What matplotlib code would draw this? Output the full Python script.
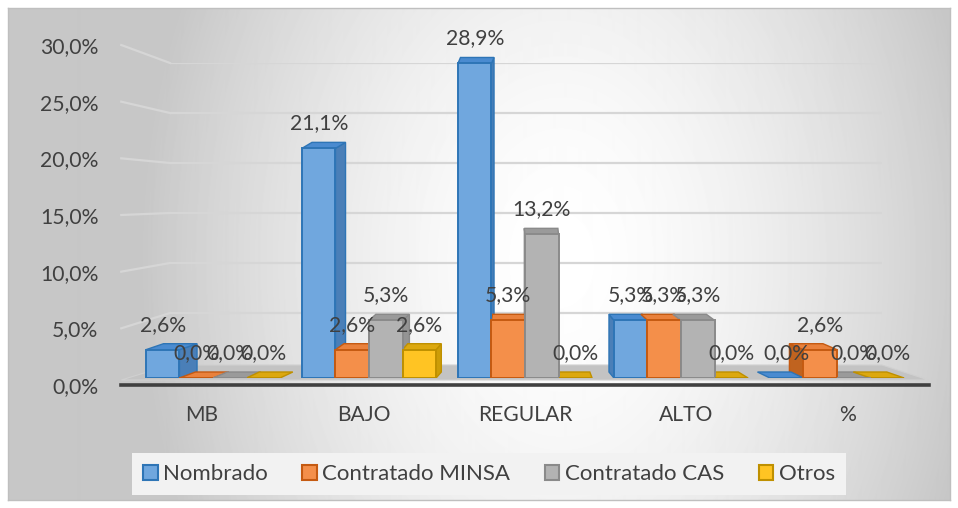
import numpy as np
import matplotlib
matplotlib.use("Agg")
import matplotlib.pyplot as plt
from matplotlib.patches import Polygon, Patch
from matplotlib.lines import Line2D
from matplotlib.transforms import IdentityTransform

plt.rcParams['font.family'] = ['Lato', 'DejaVu Sans']

# ---------------- data ----------------
categories = ['MB', 'BAJO', 'REGULAR', 'ALTO', '%']
series_names = ['Nombrado', 'Contratado MINSA', 'Contratado CAS', 'Otros']
nombrado = [2.6, 21.1, 28.9, 5.3, 0.0]
contratado_minsa = [0.0, 2.6, 5.3, 5.3, 2.6]
contratado_cas = [0.0, 5.3, 13.2, 5.3, 0.0]
otros = [0.0, 2.6, 0.0, 0.0, 0.0]
y_ticks = [0, 5, 10, 15, 20, 25, 30]

series_values = [nombrado, contratado_minsa, contratado_cas, otros]

# ---------------- styles ----------------
front_cols = ['#70a7de', '#f48f4a', '#b3b3b3', '#ffc423']
edge_cols = ['#2e75b6', '#c55a11', '#8a8a8a', '#bf9000']
side_cols = ['#4a7fb8', '#c0631f', '#949494', '#cc9d08']
top_cols = ['#4a8bd0', '#e9813c', '#9a9a9a', '#dca80f']
txt = '#404040'
FS = 15.2
LFS = 16

W, H = 958, 508
fig = plt.figure(figsize=(W / 100, H / 100), dpi=100, facecolor='white')


def rect(l, t, r, b):
    return [l / W, 1 - b / H, (r - l) / W, (b - t) / H]


# background panel with gradient
bg_ax = fig.add_axes(rect(8, 8, 950, 500), zorder=0)
yy, xx = np.mgrid[8:500, 8:950]
u = (xx - 560) / 420.0
v = (yy - 260) / 600.0
t = np.clip(np.sqrt(u ** 2 + v ** 2), 0, 1)
val = 1 - 0.22 * t ** 1.6
bg_ax.imshow(val, cmap='gray', vmin=0, vmax=1, aspect='auto',
             extent=(0, 1, 0, 1), origin='upper', interpolation='bilinear')
bg_ax.set_xticks([])
bg_ax.set_yticks([])
for s in bg_ax.spines.values():
    s.set_color('#bfbfbf')
    s.set_linewidth(1.0)

# back wall (gridlines)
back_ax = fig.add_axes(rect(170, 63, 882, 363), zorder=1)
back_ax.set_xlim(0, 1)
back_ax.set_ylim(0, 30)
back_ax.axis('off')
for yt in y_ticks[1:]:
    back_ax.axhline(yt, color='#d6d6d6', lw=1.6, zorder=1)

# front axes (tick labels, baseline)
front_ax = fig.add_axes(rect(121.25, 45, 928.75, 385), zorder=3)
front_ax.set_xlim(-0.5, len(categories) - 0.5)
front_ax.set_ylim(0, 30)
front_ax.patch.set_visible(False)
for k in ['top', 'right', 'left']:
    front_ax.spines[k].set_visible(False)
front_ax.spines['bottom'].set_color('#404040')
front_ax.spines['bottom'].set_linewidth(2.6)
front_ax.set_yticks(y_ticks)
front_ax.set_yticklabels([f"{yt:.1f}".replace('.', ',') + '%' for yt in y_ticks])
front_ax.set_xticks(range(len(categories)))
front_ax.set_xticklabels(categories)
front_ax.tick_params(axis='y', length=0, pad=16.5, labelsize=FS, labelcolor=txt)
front_ax.tick_params(axis='x', length=0, pad=14.5, labelsize=FS, labelcolor=txt)

# slanted side-wall gridlines (front -> back wall), from tick values
fig.canvas.draw()
for yt in y_ticks[1:]:
    p0 = front_ax.transData.transform((-0.5, yt))
    p1 = back_ax.transData.transform((0, yt))
    fig.add_artist(Line2D([p0[0], p1[0]], [p0[1], p1[1]], color='#d6d6d6',
                          lw=1.6, transform=IdentityTransform(), zorder=1.2))

# bars axes
mid_ax = fig.add_axes(rect(135, 51.5, 915, 378), zorder=2)
mid_ax.set_xlim(-0.5, len(categories) - 0.5)
mid_ax.set_ylim(0, 30)
mid_ax.axis('off')
mid_ax.patch.set_visible(False)

# floor plate
fl = front_ax.transData.transform((-0.5, 0))
fr = front_ax.transData.transform((len(categories) - 0.5, 0))
bl = back_ax.transData.transform((0, 0))
br = back_ax.transData.transform((1, 0))
y_front = mid_ax.transData.transform((0, 0))[1] - 2
fig.add_artist(Polygon([[fl[0], y_front], [fr[0], y_front], [br[0], bl[1] - 2],
                        [bl[0], bl[1] - 2]], closed=True, facecolor='#c3c3c3',
                       edgecolor='#d0d0d0', lw=0.8,
                       transform=IdentityTransform(), zorder=1.5))

# pixel scales in mid_ax
ax_w_px = (915 - 135)
ax_h_px = (378 - 51.5)
px_per_x = ax_w_px / len(categories)
px_per_y = ax_h_px / 30.0
dy = 6.0 / px_per_y
vp = 2.02

n = len(series_values)
bw = 0.215
x = np.arange(len(categories))
for i, vals in enumerate(series_values):
    off = (i - (n - 1) / 2) * bw
    xs = x + off
    # front faces through the library's bar
    mid_ax.bar(xs, vals, width=bw, color=front_cols[i], edgecolor=edge_cols[i],
               linewidth=1.4, zorder=4)
    for xc, h in zip(xs, vals):
        dx = -7.5 * (xc - vp) / px_per_x
        x0, x1 = xc - bw / 2, xc + bw / 2
        top = [[x0, h], [x1, h], [x1 + dx, h + dy], [x0 + dx, h + dy]]
        mid_ax.add_patch(Polygon(top, closed=True, facecolor=top_cols[i],
                                 edgecolor=edge_cols[i], lw=1.0, zorder=3))
        if h > 0:
            xe = x1 if dx > 0 else x0
            side = [[xe, 0], [xe, h], [xe + dx, h + dy], [xe + dx, dy]]
            mid_ax.add_patch(Polygon(side, closed=True, facecolor=side_cols[i],
                                     edgecolor=edge_cols[i], lw=1.0, zorder=2))
        mid_ax.annotate(f"{h:.1f}".replace('.', ',') + '%', (xc, h),
                        xytext=(0, 18), textcoords='offset points',
                        ha='center', va='center', fontsize=FS, color=txt,
                        zorder=10, annotation_clip=False)

# legend
handles = [Patch(facecolor=front_cols[i], edgecolor=edge_cols[i], linewidth=1.5)
           for i in range(n)]
leg = fig.legend(handles, series_names, loc='center',
                 bbox_to_anchor=(489 / W, 1 - 474 / H), ncol=4, frameon=True,
                 facecolor='#f2f2f2', edgecolor='none', fancybox=False,
                 fontsize=LFS, handlelength=0.65, handleheight=0.65,
                 handletextpad=0.25, columnspacing=1.55, borderpad=0.5)
leg.get_frame().set_alpha(1)
for tx in leg.get_texts():
    tx.set_color(txt)

fig.savefig('out.png', dpi=100, facecolor='white')
